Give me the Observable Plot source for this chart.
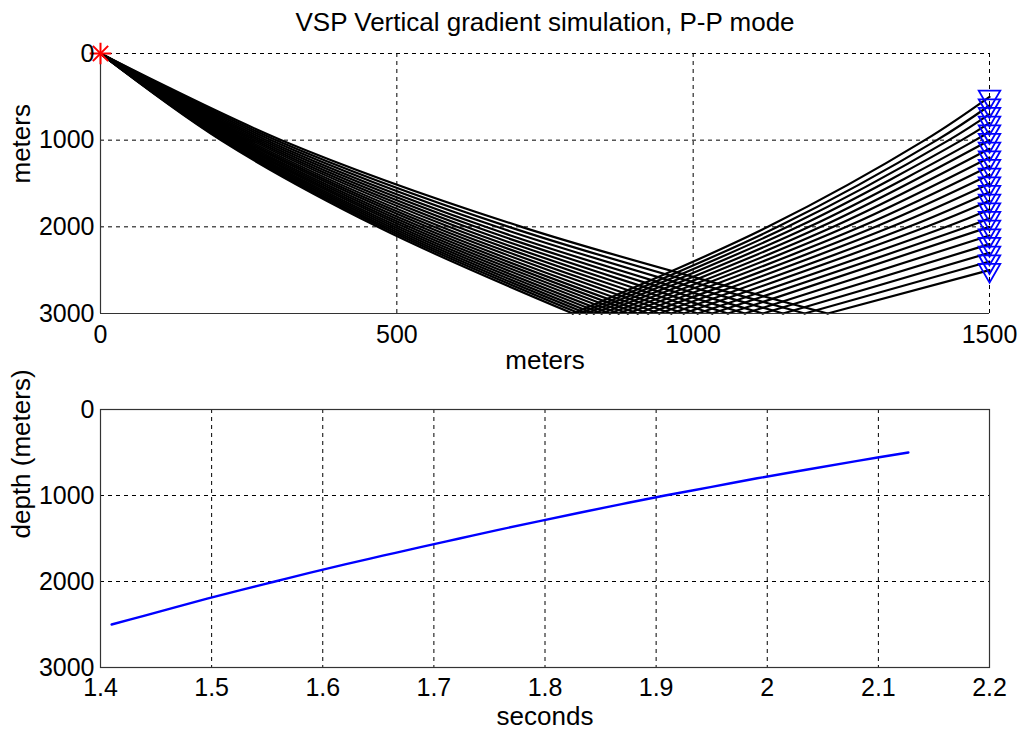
<!DOCTYPE html>
<html><head><meta charset="utf-8">
<script src="https://cdn.jsdelivr.net/npm/d3@7"></script>
<script src="https://cdn.jsdelivr.net/npm/@observablehq/plot@0.6"></script>
<style>
html,body{margin:0;padding:0;background:#fff;}
#chart{width:1021px;height:731px;overflow:hidden;position:relative;}
#chart svg{display:block;}
</style></head><body><div id="chart"></div>
<script>
// ---- data ----
const titleText = "VSP Vertical gradient simulation, P-P mode";
const sourceX = [0];
const sourceDepth = [0];
const receiverX = 1500;
const reflectorDepth = 3000;
const sampleDepths = [1000, 2000];
const receiverDepth = [500,600,700,800,900,1000,1100,1200,1300,1400,1500,1600,1700,1800,1900,2000,2100,2200,2300,2400,2500];
// horizontal position of each ray on its way down, at 1000 m and 2000 m depth
const downX1000 = [203.0,205.9,208.8,211.8,215.0,218.4,222.0,225.7,229.8,234.0,238.6,243.4,248.5,254.1,259.9,266.2,273.0,280.0,288.0,296.4,305.3];
const downX2000 = [467.7,474.4,481.0,488.1,495.6,503.5,512.1,521.0,530.5,540.5,551.2,562.7,574.6,587.9,601.7,616.7,632.8,649.7,668.7,689.0,710.4];
// reflection point on the 3000 m reflector
const reflX = [796.9,808.5,820.1,832.4,845.6,859.4,874.3,889.8,906.5,924.1,942.8,963.1,984.2,1007.7,1032.1,1058.7,1087.4,1117.6,1151.7,1188.2,1227.0];
// horizontal position of each ray on its way up, at 2000 m and 1000 m depth
const upX2000 = [1126.1,1142.6,1159.2,1176.7,1195.6,1215.3,1236.5,1258.6,1282.5,1307.7,1334.4,1363.5,1393.8,1427.5,1462.5,null,null,null,null,null,null];
const upX1000 = [1390.8,1411.1,1431.4,1453.0,1476.2,null,null,null,null,null,null,null,null,null,null,null,null,null,null,null,null];
// first-arrival time (s) at each receiver
const travelTime = [2.127,2.080,2.035,1.991,1.950,1.908,1.869,1.831,1.794,1.758,1.723,1.688,1.654,1.620,1.588,1.557,1.526,1.496,1.467,1.439,1.410];
// ticks
const topXTicks = [0,500,1000,1500];
const depthTicks = [0,1000,2000,3000];
const timeTicks = [1.4,1.5,1.6,1.7,1.8,1.9,2.0,2.1,2.2];
const axisLabels = {topX:"meters", topY:"meters", botX:"seconds", botY:"depth (meters)"};

(function () {
  // ---- build tables ----
  const rayPts = [];
  receiverDepth.forEach((zr, i) => {
    const d = "d" + i, u = "u" + i;
    rayPts.push({x: sourceX[0], z: sourceDepth[0], id: d});
    rayPts.push({x: downX1000[i], z: sampleDepths[0], id: d});
    rayPts.push({x: downX2000[i], z: sampleDepths[1], id: d});
    rayPts.push({x: reflX[i], z: reflectorDepth, id: d});
    rayPts.push({x: reflX[i], z: reflectorDepth, id: u});
    if (upX2000[i] != null) rayPts.push({x: upX2000[i], z: sampleDepths[1], id: u});
    if (upX1000[i] != null) rayPts.push({x: upX1000[i], z: sampleDepths[0], id: u});
    rayPts.push({x: receiverX, z: zr, id: u});
  });
  const receivers = receiverDepth.map(z => ({x: receiverX, z}));
  const source = sourceX.map((x, i) => ({x, z: sourceDepth[i]}));
  const vsp = receiverDepth.map((z, i) => ({t: travelTime[i], z}));

  const FONT = "'Liberation Sans', Arial, Helvetica, sans-serif";
  const FS = 25;
  const gridStyle = {stroke: "#000", strokeOpacity: 1, strokeWidth: 1, strokeDasharray: "4,4"};
  const axisStyle = {tickSize: 0, fontSize: FS, label: null, fill: "#000"};
  const fmtNum = d => String(+(+d).toFixed(1));

  const topPlot = Plot.plot({
    width: 1021, height: 365,
    marginTop: 53, marginBottom: 52, marginLeft: 100, marginRight: 32,
    style: {fontFamily: FONT, fontSize: FS + "px", background: "#fff", color: "#000", overflow: "visible"},
    x: {domain: [0, 1500]},
    y: {domain: [0, 3000], reverse: true},
    marks: [
      Plot.gridX(topXTicks, gridStyle),
      Plot.gridY(depthTicks, gridStyle),
      Plot.line(rayPts, {x: "x", y: "z", z: "id", stroke: "#000", strokeWidth: 2.2, curve: "catmull-rom"}),
      Plot.ruleX([0], {stroke: "#333", strokeWidth: 1.2}),
      Plot.ruleY([3000], {stroke: "#333", strokeWidth: 1.2}),
      Plot.dot(receivers, {x: "x", y: "z", symbol: "triangle", rotate: 180, r: 8, stroke: "#0000ff", strokeWidth: 1.8, fill: "none"}),
      Plot.dot(source, {x: "x", y: "z", symbol: "plus", r: 7, stroke: "#ff0000", strokeWidth: 2}),
      Plot.dot(source, {x: "x", y: "z", symbol: "times", r: 7, stroke: "#ff0000", strokeWidth: 2}),
      Plot.axisX(topXTicks, {...axisStyle, tickPadding: 12, tickFormat: fmtNum}),
      Plot.axisY(depthTicks, {...axisStyle, tickPadding: 6, tickFormat: fmtNum}),
      Plot.text([titleText], {frameAnchor: "top", dy: -30.5, lineAnchor: "middle", fontSize: 26, fill: "#000"}),
      Plot.text([axisLabels.topX], {frameAnchor: "bottom", dy: 47.5, lineAnchor: "middle", fontSize: 26, fill: "#000"}),
      Plot.text([axisLabels.topY], {frameAnchor: "left", dx: -79, rotate: -90, lineAnchor: "middle", fontSize: 26, fill: "#000"})
    ]
  });

  const bottomPlot = Plot.plot({
    width: 1021, height: 366,
    marginTop: 44, marginBottom: 64, marginLeft: 100, marginRight: 32,
    style: {fontFamily: FONT, fontSize: FS + "px", background: "#fff", color: "#000", overflow: "visible"},
    x: {domain: [1.4, 2.2]},
    y: {domain: [0, 3000], reverse: true},
    marks: [
      Plot.gridX(timeTicks, gridStyle),
      Plot.gridY(depthTicks, gridStyle),
      Plot.frame({stroke: "#333", strokeWidth: 1.2}),
      Plot.line(vsp, {x: "t", y: "z", stroke: "#0000ff", strokeWidth: 2.4, curve: "catmull-rom"}),
      Plot.axisX(timeTicks, {...axisStyle, tickPadding: 11, tickFormat: fmtNum}),
      Plot.axisY(depthTicks, {...axisStyle, tickPadding: 6, tickFormat: fmtNum}),
      Plot.text([axisLabels.botX], {frameAnchor: "bottom", dy: 49, lineAnchor: "middle", fontSize: 26, fill: "#000"}),
      Plot.text([axisLabels.botY], {frameAnchor: "left", dx: -79, rotate: -90, lineAnchor: "middle", fontSize: 26, fill: "#000"})
    ]
  });

  const chart = document.getElementById("chart");
  chart.appendChild(topPlot);
  chart.appendChild(bottomPlot);
})();
</script></body></html>
